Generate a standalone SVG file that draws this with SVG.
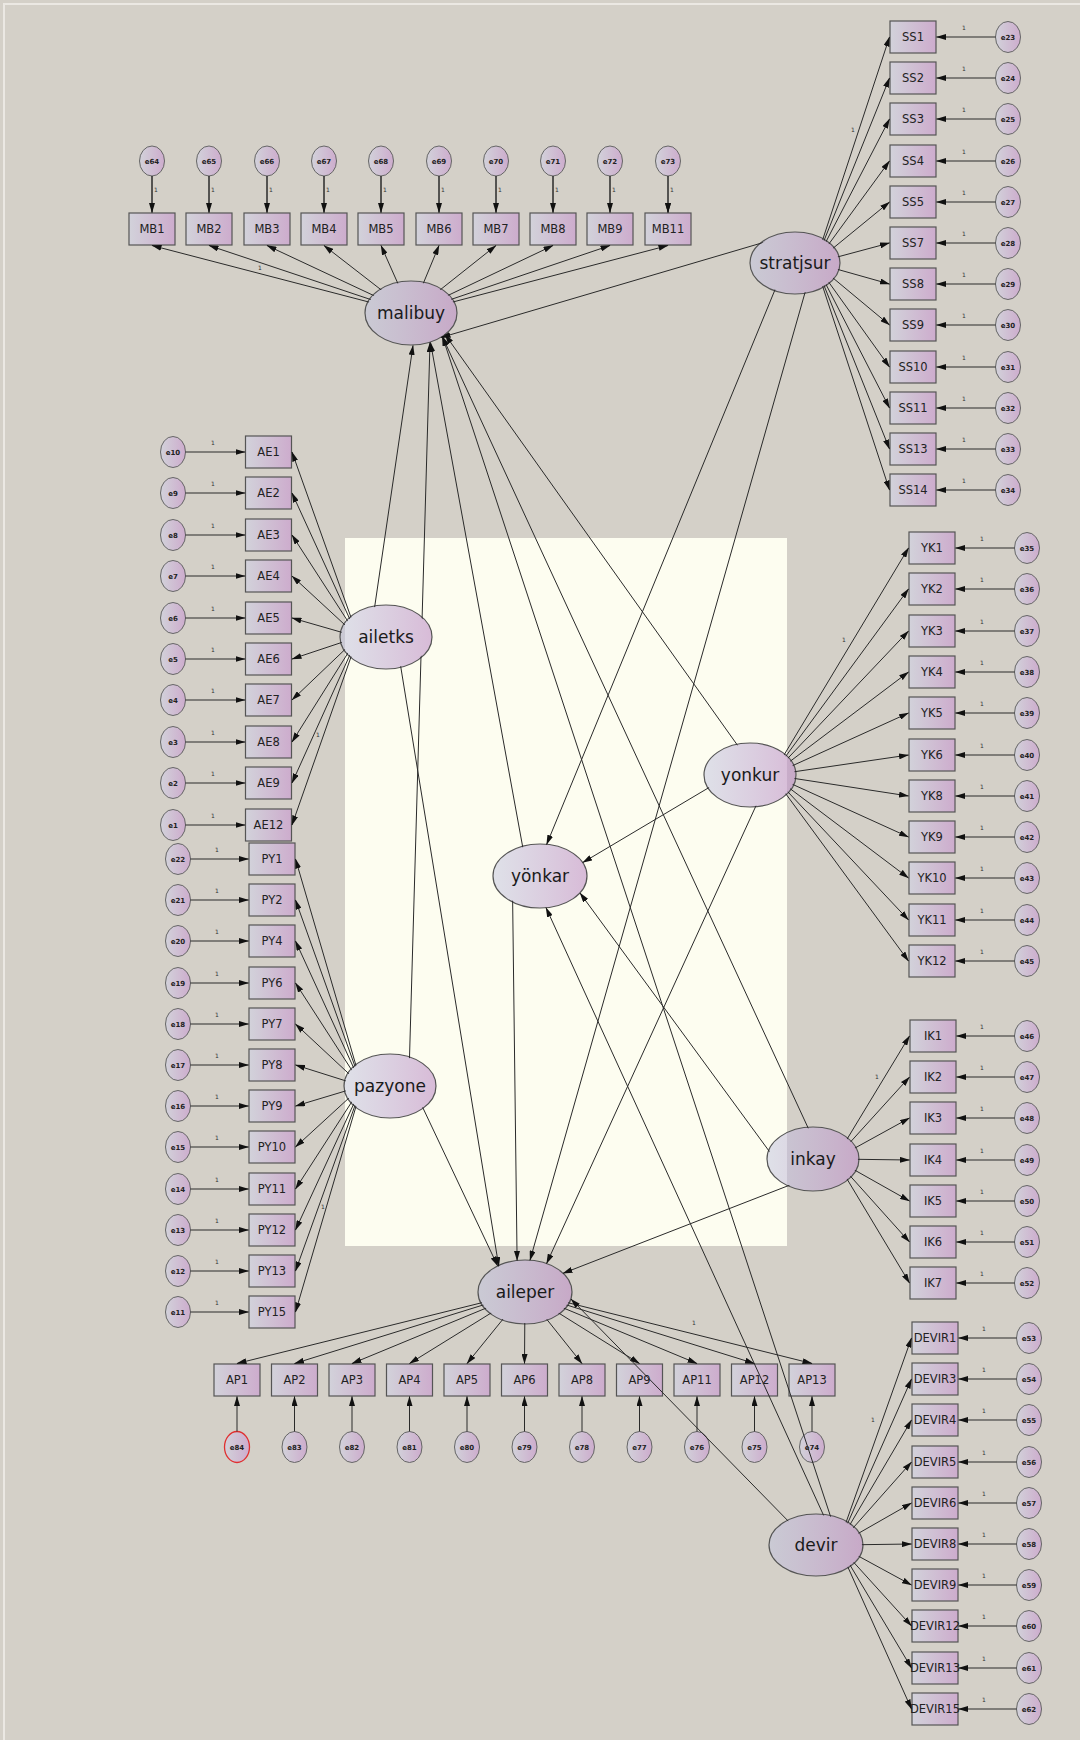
<svg xmlns="http://www.w3.org/2000/svg" width="1080" height="1740" viewBox="0 0 1080 1740">
<defs>
<linearGradient id="gb" x1="0" y1="0" x2="1" y2="0"><stop offset="0" stop-color="#d2d2da"/><stop offset="1" stop-color="#cdaccd"/></linearGradient>
<linearGradient id="gl" x1="0" y1="0" x2="1" y2="0"><stop offset="0" stop-color="#c0c4e0" stop-opacity="0.5"/><stop offset="1" stop-color="#bf8fc7" stop-opacity="0.6"/></linearGradient>
<marker id="ah" markerWidth="10" markerHeight="6" refX="9.5" refY="3" orient="auto" markerUnits="userSpaceOnUse"><path d="M0,0 L10,3 L0,6 z" fill="#111"/></marker>
<mask id="cut" maskUnits="userSpaceOnUse" x="0" y="0" width="1080" height="1740">
<rect x="0" y="0" width="1080" height="1740" fill="#fff"/>
<ellipse cx="411" cy="313" rx="45" ry="31" fill="#000"/>
<ellipse cx="795" cy="263" rx="44" ry="30" fill="#000"/>
<ellipse cx="386" cy="637" rx="45" ry="31" fill="#000"/>
<ellipse cx="390" cy="1086" rx="45" ry="31" fill="#000"/>
<ellipse cx="540" cy="876" rx="46" ry="31" fill="#000"/>
<ellipse cx="750" cy="775" rx="45" ry="31" fill="#000"/>
<ellipse cx="813" cy="1159" rx="45" ry="31" fill="#000"/>
<ellipse cx="525" cy="1292" rx="46" ry="31" fill="#000"/>
<ellipse cx="816" cy="1545" rx="46" ry="30" fill="#000"/>
</mask>
</defs>
<style>
.box{fill:url(#gb);stroke:#555;stroke-width:1.2}
.err{fill:url(#gb);stroke:#666;stroke-width:1}
.lat{fill:url(#gl);stroke:#555;stroke-width:1.2}
.bt{font-family:"DejaVu Sans","Liberation Sans",sans-serif;font-size:11.5px;fill:#222;text-anchor:middle}
.et{font-family:"DejaVu Sans","Liberation Sans",sans-serif;font-size:7px;font-weight:bold;fill:#222;text-anchor:middle}
.lt{font-family:"DejaVu Sans","Liberation Sans",sans-serif;font-size:17px;fill:#1a1a1a;text-anchor:middle}
.one{font-family:"DejaVu Sans","Liberation Sans",sans-serif;font-size:6px;fill:#333;text-anchor:middle}
.c{stroke:#2a2a2a;stroke-width:1;fill:none;marker-end:url(#ah)}
</style>
<rect x="0" y="0" width="1080" height="1740" fill="#d4d0c8"/>
<path d="M4,1740 V4 H1080" fill="none" stroke="#ebe8e3" stroke-width="2"/>
<rect x="345" y="538" width="442" height="708" fill="#fdfdf0"/>

<!-- latent variables -->
<g id="malibuy"><ellipse class="lat" cx="411" cy="313" rx="46" ry="32"/><text class="lt" x="411" y="319">malibuy</text></g>
<g id="stratjsur"><ellipse class="lat" cx="795" cy="263" rx="45" ry="31"/><text class="lt" x="795" y="269">stratjsur</text></g>
<g id="ailetks"><ellipse class="lat" cx="386" cy="637" rx="46" ry="32"/><text class="lt" x="386" y="643">ailetks</text></g>
<g id="pazyone"><ellipse class="lat" cx="390" cy="1086" rx="46" ry="32"/><text class="lt" x="390" y="1092">pazyone</text></g>
<g id="yonkar"><ellipse class="lat" cx="540" cy="876" rx="47" ry="32"/><text class="lt" x="540" y="882">yönkar</text></g>
<g id="yonkur"><ellipse class="lat" cx="750" cy="775" rx="46" ry="32"/><text class="lt" x="750" y="781">yonkur</text></g>
<g id="inkay"><ellipse class="lat" cx="813" cy="1159" rx="46" ry="32"/><text class="lt" x="813" y="1165">inkay</text></g>
<g id="aileper"><ellipse class="lat" cx="525" cy="1292" rx="47" ry="32"/><text class="lt" x="525" y="1298">aileper</text></g>
<g id="devir"><ellipse class="lat" cx="816" cy="1545" rx="47" ry="31"/><text class="lt" x="816" y="1551">devir</text></g>

<!-- MB indicators -->
<g id="MB1"><rect class="box" x="129" y="213" width="46" height="32"/><text class="bt" x="152" y="233">MB1</text></g>
<g id="MB2"><rect class="box" x="186" y="213" width="46" height="32"/><text class="bt" x="209" y="233">MB2</text></g>
<g id="MB3"><rect class="box" x="244" y="213" width="46" height="32"/><text class="bt" x="267" y="233">MB3</text></g>
<g id="MB4"><rect class="box" x="301" y="213" width="46" height="32"/><text class="bt" x="324" y="233">MB4</text></g>
<g id="MB5"><rect class="box" x="358" y="213" width="46" height="32"/><text class="bt" x="381" y="233">MB5</text></g>
<g id="MB6"><rect class="box" x="416" y="213" width="46" height="32"/><text class="bt" x="439" y="233">MB6</text></g>
<g id="MB7"><rect class="box" x="473" y="213" width="46" height="32"/><text class="bt" x="496" y="233">MB7</text></g>
<g id="MB8"><rect class="box" x="530" y="213" width="46" height="32"/><text class="bt" x="553" y="233">MB8</text></g>
<g id="MB9"><rect class="box" x="587" y="213" width="46" height="32"/><text class="bt" x="610" y="233">MB9</text></g>
<g id="MB11"><rect class="box" x="645" y="213" width="46" height="32"/><text class="bt" x="668" y="233">MB11</text></g>
<g id="e64"><ellipse class="err" cx="152" cy="161" rx="12.5" ry="15"/><text class="et" x="152" y="163.5">e64</text></g>
<g id="e65"><ellipse class="err" cx="209" cy="161" rx="12.5" ry="15"/><text class="et" x="209" y="163.5">e65</text></g>
<g id="e66"><ellipse class="err" cx="267" cy="161" rx="12.5" ry="15"/><text class="et" x="267" y="163.5">e66</text></g>
<g id="e67"><ellipse class="err" cx="324" cy="161" rx="12.5" ry="15"/><text class="et" x="324" y="163.5">e67</text></g>
<g id="e68"><ellipse class="err" cx="381" cy="161" rx="12.5" ry="15"/><text class="et" x="381" y="163.5">e68</text></g>
<g id="e69"><ellipse class="err" cx="439" cy="161" rx="12.5" ry="15"/><text class="et" x="439" y="163.5">e69</text></g>
<g id="e70"><ellipse class="err" cx="496" cy="161" rx="12.5" ry="15"/><text class="et" x="496" y="163.5">e70</text></g>
<g id="e71"><ellipse class="err" cx="553" cy="161" rx="12.5" ry="15"/><text class="et" x="553" y="163.5">e71</text></g>
<g id="e72"><ellipse class="err" cx="610" cy="161" rx="12.5" ry="15"/><text class="et" x="610" y="163.5">e72</text></g>
<g id="e73"><ellipse class="err" cx="668" cy="161" rx="12.5" ry="15"/><text class="et" x="668" y="163.5">e73</text></g>

<!-- SS indicators -->
<g id="SS1"><rect class="box" x="890" y="21" width="46" height="32"/><text class="bt" x="913" y="41">SS1</text></g>
<g id="SS2"><rect class="box" x="890" y="62" width="46" height="32"/><text class="bt" x="913" y="82">SS2</text></g>
<g id="SS3"><rect class="box" x="890" y="103" width="46" height="32"/><text class="bt" x="913" y="123">SS3</text></g>
<g id="SS4"><rect class="box" x="890" y="145" width="46" height="32"/><text class="bt" x="913" y="165">SS4</text></g>
<g id="SS5"><rect class="box" x="890" y="186" width="46" height="32"/><text class="bt" x="913" y="206">SS5</text></g>
<g id="SS7"><rect class="box" x="890" y="227" width="46" height="32"/><text class="bt" x="913" y="247">SS7</text></g>
<g id="SS8"><rect class="box" x="890" y="268" width="46" height="32"/><text class="bt" x="913" y="288">SS8</text></g>
<g id="SS9"><rect class="box" x="890" y="309" width="46" height="32"/><text class="bt" x="913" y="329">SS9</text></g>
<g id="SS10"><rect class="box" x="890" y="351" width="46" height="32"/><text class="bt" x="913" y="371">SS10</text></g>
<g id="SS11"><rect class="box" x="890" y="392" width="46" height="32"/><text class="bt" x="913" y="412">SS11</text></g>
<g id="SS13"><rect class="box" x="890" y="433" width="46" height="32"/><text class="bt" x="913" y="453">SS13</text></g>
<g id="SS14"><rect class="box" x="890" y="474" width="46" height="32"/><text class="bt" x="913" y="494">SS14</text></g>
<g id="e23"><ellipse class="err" cx="1008" cy="37" rx="12.5" ry="15.5"/><text class="et" x="1008" y="39.5">e23</text></g>
<g id="e24"><ellipse class="err" cx="1008" cy="78" rx="12.5" ry="15.5"/><text class="et" x="1008" y="80.5">e24</text></g>
<g id="e25"><ellipse class="err" cx="1008" cy="119" rx="12.5" ry="15.5"/><text class="et" x="1008" y="121.5">e25</text></g>
<g id="e26"><ellipse class="err" cx="1008" cy="161" rx="12.5" ry="15.5"/><text class="et" x="1008" y="163.5">e26</text></g>
<g id="e27"><ellipse class="err" cx="1008" cy="202" rx="12.5" ry="15.5"/><text class="et" x="1008" y="204.5">e27</text></g>
<g id="e28"><ellipse class="err" cx="1008" cy="243" rx="12.5" ry="15.5"/><text class="et" x="1008" y="245.5">e28</text></g>
<g id="e29"><ellipse class="err" cx="1008" cy="284" rx="12.5" ry="15.5"/><text class="et" x="1008" y="286.5">e29</text></g>
<g id="e30"><ellipse class="err" cx="1008" cy="325" rx="12.5" ry="15.5"/><text class="et" x="1008" y="327.5">e30</text></g>
<g id="e31"><ellipse class="err" cx="1008" cy="367" rx="12.5" ry="15.5"/><text class="et" x="1008" y="369.5">e31</text></g>
<g id="e32"><ellipse class="err" cx="1008" cy="408" rx="12.5" ry="15.5"/><text class="et" x="1008" y="410.5">e32</text></g>
<g id="e33"><ellipse class="err" cx="1008" cy="449" rx="12.5" ry="15.5"/><text class="et" x="1008" y="451.5">e33</text></g>
<g id="e34"><ellipse class="err" cx="1008" cy="490" rx="12.5" ry="15.5"/><text class="et" x="1008" y="492.5">e34</text></g>

<!-- YK indicators -->
<g id="YK1"><rect class="box" x="909" y="532" width="46" height="32"/><text class="bt" x="932" y="552">YK1</text></g>
<g id="YK2"><rect class="box" x="909" y="573" width="46" height="32"/><text class="bt" x="932" y="593">YK2</text></g>
<g id="YK3"><rect class="box" x="909" y="615" width="46" height="32"/><text class="bt" x="932" y="635">YK3</text></g>
<g id="YK4"><rect class="box" x="909" y="656" width="46" height="32"/><text class="bt" x="932" y="676">YK4</text></g>
<g id="YK5"><rect class="box" x="909" y="697" width="46" height="32"/><text class="bt" x="932" y="717">YK5</text></g>
<g id="YK6"><rect class="box" x="909" y="739" width="46" height="32"/><text class="bt" x="932" y="759">YK6</text></g>
<g id="YK8"><rect class="box" x="909" y="780" width="46" height="32"/><text class="bt" x="932" y="800">YK8</text></g>
<g id="YK9"><rect class="box" x="909" y="821" width="46" height="32"/><text class="bt" x="932" y="841">YK9</text></g>
<g id="YK10"><rect class="box" x="909" y="862" width="46" height="32"/><text class="bt" x="932" y="882">YK10</text></g>
<g id="YK11"><rect class="box" x="909" y="904" width="46" height="32"/><text class="bt" x="932" y="924">YK11</text></g>
<g id="YK12"><rect class="box" x="909" y="945" width="46" height="32"/><text class="bt" x="932" y="965">YK12</text></g>
<g id="e35"><ellipse class="err" cx="1027" cy="548" rx="12.5" ry="15.5"/><text class="et" x="1027" y="550.5">e35</text></g>
<g id="e36"><ellipse class="err" cx="1027" cy="589" rx="12.5" ry="15.5"/><text class="et" x="1027" y="591.5">e36</text></g>
<g id="e37"><ellipse class="err" cx="1027" cy="631" rx="12.5" ry="15.5"/><text class="et" x="1027" y="633.5">e37</text></g>
<g id="e38"><ellipse class="err" cx="1027" cy="672" rx="12.5" ry="15.5"/><text class="et" x="1027" y="674.5">e38</text></g>
<g id="e39"><ellipse class="err" cx="1027" cy="713" rx="12.5" ry="15.5"/><text class="et" x="1027" y="715.5">e39</text></g>
<g id="e40"><ellipse class="err" cx="1027" cy="755" rx="12.5" ry="15.5"/><text class="et" x="1027" y="757.5">e40</text></g>
<g id="e41"><ellipse class="err" cx="1027" cy="796" rx="12.5" ry="15.5"/><text class="et" x="1027" y="798.5">e41</text></g>
<g id="e42"><ellipse class="err" cx="1027" cy="837" rx="12.5" ry="15.5"/><text class="et" x="1027" y="839.5">e42</text></g>
<g id="e43"><ellipse class="err" cx="1027" cy="878" rx="12.5" ry="15.5"/><text class="et" x="1027" y="880.5">e43</text></g>
<g id="e44"><ellipse class="err" cx="1027" cy="920" rx="12.5" ry="15.5"/><text class="et" x="1027" y="922.5">e44</text></g>
<g id="e45"><ellipse class="err" cx="1027" cy="961" rx="12.5" ry="15.5"/><text class="et" x="1027" y="963.5">e45</text></g>

<!-- IK indicators -->
<g id="IK1"><rect class="box" x="910" y="1020" width="46" height="32"/><text class="bt" x="933" y="1040">IK1</text></g>
<g id="IK2"><rect class="box" x="910" y="1061" width="46" height="32"/><text class="bt" x="933" y="1081">IK2</text></g>
<g id="IK3"><rect class="box" x="910" y="1102" width="46" height="32"/><text class="bt" x="933" y="1122">IK3</text></g>
<g id="IK4"><rect class="box" x="910" y="1144" width="46" height="32"/><text class="bt" x="933" y="1164">IK4</text></g>
<g id="IK5"><rect class="box" x="910" y="1185" width="46" height="32"/><text class="bt" x="933" y="1205">IK5</text></g>
<g id="IK6"><rect class="box" x="910" y="1226" width="46" height="32"/><text class="bt" x="933" y="1246">IK6</text></g>
<g id="IK7"><rect class="box" x="910" y="1267" width="46" height="32"/><text class="bt" x="933" y="1287">IK7</text></g>
<g id="e46"><ellipse class="err" cx="1027" cy="1036" rx="12.5" ry="15.5"/><text class="et" x="1027" y="1038.5">e46</text></g>
<g id="e47"><ellipse class="err" cx="1027" cy="1077" rx="12.5" ry="15.5"/><text class="et" x="1027" y="1079.5">e47</text></g>
<g id="e48"><ellipse class="err" cx="1027" cy="1118" rx="12.5" ry="15.5"/><text class="et" x="1027" y="1120.5">e48</text></g>
<g id="e49"><ellipse class="err" cx="1027" cy="1160" rx="12.5" ry="15.5"/><text class="et" x="1027" y="1162.5">e49</text></g>
<g id="e50"><ellipse class="err" cx="1027" cy="1201" rx="12.5" ry="15.5"/><text class="et" x="1027" y="1203.5">e50</text></g>
<g id="e51"><ellipse class="err" cx="1027" cy="1242" rx="12.5" ry="15.5"/><text class="et" x="1027" y="1244.5">e51</text></g>
<g id="e52"><ellipse class="err" cx="1027" cy="1283" rx="12.5" ry="15.5"/><text class="et" x="1027" y="1285.5">e52</text></g>

<!-- DEVIR indicators -->
<g id="DEVIR1"><rect class="box" x="912" y="1322" width="46" height="32"/><text class="bt" x="935" y="1342">DEVIR1</text></g>
<g id="DEVIR3"><rect class="box" x="912" y="1363" width="46" height="32"/><text class="bt" x="935" y="1383">DEVIR3</text></g>
<g id="DEVIR4"><rect class="box" x="912" y="1404" width="46" height="32"/><text class="bt" x="935" y="1424">DEVIR4</text></g>
<g id="DEVIR5"><rect class="box" x="912" y="1446" width="46" height="32"/><text class="bt" x="935" y="1466">DEVIR5</text></g>
<g id="DEVIR6"><rect class="box" x="912" y="1487" width="46" height="32"/><text class="bt" x="935" y="1507">DEVIR6</text></g>
<g id="DEVIR8"><rect class="box" x="912" y="1528" width="46" height="32"/><text class="bt" x="935" y="1548">DEVIR8</text></g>
<g id="DEVIR9"><rect class="box" x="912" y="1569" width="46" height="32"/><text class="bt" x="935" y="1589">DEVIR9</text></g>
<g id="DEVIR12"><rect class="box" x="912" y="1610" width="46" height="32"/><text class="bt" x="935" y="1630">DEVIR12</text></g>
<g id="DEVIR13"><rect class="box" x="912" y="1652" width="46" height="32"/><text class="bt" x="935" y="1672">DEVIR13</text></g>
<g id="DEVIR15"><rect class="box" x="912" y="1693" width="46" height="32"/><text class="bt" x="935" y="1713">DEVIR15</text></g>
<g id="e53"><ellipse class="err" cx="1029" cy="1338" rx="12.5" ry="15.5"/><text class="et" x="1029" y="1340.5">e53</text></g>
<g id="e54"><ellipse class="err" cx="1029" cy="1379" rx="12.5" ry="15.5"/><text class="et" x="1029" y="1381.5">e54</text></g>
<g id="e55"><ellipse class="err" cx="1029" cy="1420" rx="12.5" ry="15.5"/><text class="et" x="1029" y="1422.5">e55</text></g>
<g id="e56"><ellipse class="err" cx="1029" cy="1462" rx="12.5" ry="15.5"/><text class="et" x="1029" y="1464.5">e56</text></g>
<g id="e57"><ellipse class="err" cx="1029" cy="1503" rx="12.5" ry="15.5"/><text class="et" x="1029" y="1505.5">e57</text></g>
<g id="e58"><ellipse class="err" cx="1029" cy="1544" rx="12.5" ry="15.5"/><text class="et" x="1029" y="1546.5">e58</text></g>
<g id="e59"><ellipse class="err" cx="1029" cy="1585" rx="12.5" ry="15.5"/><text class="et" x="1029" y="1587.5">e59</text></g>
<g id="e60"><ellipse class="err" cx="1029" cy="1626" rx="12.5" ry="15.5"/><text class="et" x="1029" y="1628.5">e60</text></g>
<g id="e61"><ellipse class="err" cx="1029" cy="1668" rx="12.5" ry="15.5"/><text class="et" x="1029" y="1670.5">e61</text></g>
<g id="e62"><ellipse class="err" cx="1029" cy="1709" rx="12.5" ry="15.5"/><text class="et" x="1029" y="1711.5">e62</text></g>

<!-- AE indicators -->
<g id="AE1"><rect class="box" x="245.5" y="436" width="46" height="32"/><text class="bt" x="268.5" y="456">AE1</text></g>
<g id="AE2"><rect class="box" x="245.5" y="477" width="46" height="32"/><text class="bt" x="268.5" y="497">AE2</text></g>
<g id="AE3"><rect class="box" x="245.5" y="519" width="46" height="32"/><text class="bt" x="268.5" y="539">AE3</text></g>
<g id="AE4"><rect class="box" x="245.5" y="560" width="46" height="32"/><text class="bt" x="268.5" y="580">AE4</text></g>
<g id="AE5"><rect class="box" x="245.5" y="602" width="46" height="32"/><text class="bt" x="268.5" y="622">AE5</text></g>
<g id="AE6"><rect class="box" x="245.5" y="643" width="46" height="32"/><text class="bt" x="268.5" y="663">AE6</text></g>
<g id="AE7"><rect class="box" x="245.5" y="684" width="46" height="32"/><text class="bt" x="268.5" y="704">AE7</text></g>
<g id="AE8"><rect class="box" x="245.5" y="726" width="46" height="32"/><text class="bt" x="268.5" y="746">AE8</text></g>
<g id="AE9"><rect class="box" x="245.5" y="767" width="46" height="32"/><text class="bt" x="268.5" y="787">AE9</text></g>
<g id="AE12"><rect class="box" x="245.5" y="809" width="46" height="32"/><text class="bt" x="268.5" y="829">AE12</text></g>
<g id="e10"><ellipse class="err" cx="173" cy="452" rx="12.5" ry="15.5"/><text class="et" x="173" y="454.5">e10</text></g>
<g id="e9"><ellipse class="err" cx="173" cy="493" rx="12.5" ry="15.5"/><text class="et" x="173" y="495.5">e9</text></g>
<g id="e8"><ellipse class="err" cx="173" cy="535" rx="12.5" ry="15.5"/><text class="et" x="173" y="537.5">e8</text></g>
<g id="e7"><ellipse class="err" cx="173" cy="576" rx="12.5" ry="15.5"/><text class="et" x="173" y="578.5">e7</text></g>
<g id="e6"><ellipse class="err" cx="173" cy="618" rx="12.5" ry="15.5"/><text class="et" x="173" y="620.5">e6</text></g>
<g id="e5"><ellipse class="err" cx="173" cy="659" rx="12.5" ry="15.5"/><text class="et" x="173" y="661.5">e5</text></g>
<g id="e4"><ellipse class="err" cx="173" cy="700" rx="12.5" ry="15.5"/><text class="et" x="173" y="702.5">e4</text></g>
<g id="e3"><ellipse class="err" cx="173" cy="742" rx="12.5" ry="15.5"/><text class="et" x="173" y="744.5">e3</text></g>
<g id="e2"><ellipse class="err" cx="173" cy="783" rx="12.5" ry="15.5"/><text class="et" x="173" y="785.5">e2</text></g>
<g id="e1"><ellipse class="err" cx="173" cy="825" rx="12.5" ry="15.5"/><text class="et" x="173" y="827.5">e1</text></g>

<!-- PY indicators -->
<g id="PY1"><rect class="box" x="249" y="843" width="46" height="32"/><text class="bt" x="272" y="863">PY1</text></g>
<g id="PY2"><rect class="box" x="249" y="884" width="46" height="32"/><text class="bt" x="272" y="904">PY2</text></g>
<g id="PY4"><rect class="box" x="249" y="925" width="46" height="32"/><text class="bt" x="272" y="945">PY4</text></g>
<g id="PY6"><rect class="box" x="249" y="967" width="46" height="32"/><text class="bt" x="272" y="987">PY6</text></g>
<g id="PY7"><rect class="box" x="249" y="1008" width="46" height="32"/><text class="bt" x="272" y="1028">PY7</text></g>
<g id="PY8"><rect class="box" x="249" y="1049" width="46" height="32"/><text class="bt" x="272" y="1069">PY8</text></g>
<g id="PY9"><rect class="box" x="249" y="1090" width="46" height="32"/><text class="bt" x="272" y="1110">PY9</text></g>
<g id="PY10"><rect class="box" x="249" y="1131" width="46" height="32"/><text class="bt" x="272" y="1151">PY10</text></g>
<g id="PY11"><rect class="box" x="249" y="1173" width="46" height="32"/><text class="bt" x="272" y="1193">PY11</text></g>
<g id="PY12"><rect class="box" x="249" y="1214" width="46" height="32"/><text class="bt" x="272" y="1234">PY12</text></g>
<g id="PY13"><rect class="box" x="249" y="1255" width="46" height="32"/><text class="bt" x="272" y="1275">PY13</text></g>
<g id="PY15"><rect class="box" x="249" y="1296" width="46" height="32"/><text class="bt" x="272" y="1316">PY15</text></g>
<g id="e22"><ellipse class="err" cx="178" cy="859" rx="12.5" ry="15.5"/><text class="et" x="178" y="861.5">e22</text></g>
<g id="e21"><ellipse class="err" cx="178" cy="900" rx="12.5" ry="15.5"/><text class="et" x="178" y="902.5">e21</text></g>
<g id="e20"><ellipse class="err" cx="178" cy="941" rx="12.5" ry="15.5"/><text class="et" x="178" y="943.5">e20</text></g>
<g id="e19"><ellipse class="err" cx="178" cy="983" rx="12.5" ry="15.5"/><text class="et" x="178" y="985.5">e19</text></g>
<g id="e18"><ellipse class="err" cx="178" cy="1024" rx="12.5" ry="15.5"/><text class="et" x="178" y="1026.5">e18</text></g>
<g id="e17"><ellipse class="err" cx="178" cy="1065" rx="12.5" ry="15.5"/><text class="et" x="178" y="1067.5">e17</text></g>
<g id="e16"><ellipse class="err" cx="178" cy="1106" rx="12.5" ry="15.5"/><text class="et" x="178" y="1108.5">e16</text></g>
<g id="e15"><ellipse class="err" cx="178" cy="1147" rx="12.5" ry="15.5"/><text class="et" x="178" y="1149.5">e15</text></g>
<g id="e14"><ellipse class="err" cx="178" cy="1189" rx="12.5" ry="15.5"/><text class="et" x="178" y="1191.5">e14</text></g>
<g id="e13"><ellipse class="err" cx="178" cy="1230" rx="12.5" ry="15.5"/><text class="et" x="178" y="1232.5">e13</text></g>
<g id="e12"><ellipse class="err" cx="178" cy="1271" rx="12.5" ry="15.5"/><text class="et" x="178" y="1273.5">e12</text></g>
<g id="e11"><ellipse class="err" cx="178" cy="1312" rx="12.5" ry="15.5"/><text class="et" x="178" y="1314.5">e11</text></g>

<!-- AP indicators -->
<g id="AP1"><rect class="box" x="214" y="1364" width="46" height="32"/><text class="bt" x="237" y="1384">AP1</text></g>
<g id="AP2"><rect class="box" x="271.5" y="1364" width="46" height="32"/><text class="bt" x="294.5" y="1384">AP2</text></g>
<g id="AP3"><rect class="box" x="329" y="1364" width="46" height="32"/><text class="bt" x="352" y="1384">AP3</text></g>
<g id="AP4"><rect class="box" x="386.5" y="1364" width="46" height="32"/><text class="bt" x="409.5" y="1384">AP4</text></g>
<g id="AP5"><rect class="box" x="444" y="1364" width="46" height="32"/><text class="bt" x="467" y="1384">AP5</text></g>
<g id="AP6"><rect class="box" x="501.5" y="1364" width="46" height="32"/><text class="bt" x="524.5" y="1384">AP6</text></g>
<g id="AP8"><rect class="box" x="559" y="1364" width="46" height="32"/><text class="bt" x="582" y="1384">AP8</text></g>
<g id="AP9"><rect class="box" x="616.5" y="1364" width="46" height="32"/><text class="bt" x="639.5" y="1384">AP9</text></g>
<g id="AP11"><rect class="box" x="674" y="1364" width="46" height="32"/><text class="bt" x="697" y="1384">AP11</text></g>
<g id="AP12"><rect class="box" x="731.5" y="1364" width="46" height="32"/><text class="bt" x="754.5" y="1384">AP12</text></g>
<g id="AP13"><rect class="box" x="789" y="1364" width="46" height="32"/><text class="bt" x="812" y="1384">AP13</text></g>
<g id="e84"><ellipse class="err" cx="237" cy="1447" rx="12.5" ry="15.5" style="stroke:#e03030;stroke-width:1.3"/><text class="et" x="237" y="1449.5">e84</text></g>
<g id="e83"><ellipse class="err" cx="294.5" cy="1447" rx="12.5" ry="15.5"/><text class="et" x="294.5" y="1449.5">e83</text></g>
<g id="e82"><ellipse class="err" cx="352" cy="1447" rx="12.5" ry="15.5"/><text class="et" x="352" y="1449.5">e82</text></g>
<g id="e81"><ellipse class="err" cx="409.5" cy="1447" rx="12.5" ry="15.5"/><text class="et" x="409.5" y="1449.5">e81</text></g>
<g id="e80"><ellipse class="err" cx="467" cy="1447" rx="12.5" ry="15.5"/><text class="et" x="467" y="1449.5">e80</text></g>
<g id="e79"><ellipse class="err" cx="524.5" cy="1447" rx="12.5" ry="15.5"/><text class="et" x="524.5" y="1449.5">e79</text></g>
<g id="e78"><ellipse class="err" cx="582" cy="1447" rx="12.5" ry="15.5"/><text class="et" x="582" y="1449.5">e78</text></g>
<g id="e77"><ellipse class="err" cx="639.5" cy="1447" rx="12.5" ry="15.5"/><text class="et" x="639.5" y="1449.5">e77</text></g>
<g id="e76"><ellipse class="err" cx="697" cy="1447" rx="12.5" ry="15.5"/><text class="et" x="697" y="1449.5">e76</text></g>
<g id="e75"><ellipse class="err" cx="754.5" cy="1447" rx="12.5" ry="15.5"/><text class="et" x="754.5" y="1449.5">e75</text></g>
<g id="e74"><ellipse class="err" cx="812" cy="1447" rx="12.5" ry="15.5"/><text class="et" x="812" y="1449.5">e74</text></g>

<!-- connectors -->
<g id="connectors" mask="url(#cut)">
<!-- error to indicator: MB -->
<path class="c" d="M152,176 V212.5 M209,176 V212.5 M267,176 V212.5 M324,176 V212.5 M381,176 V212.5 M439,176 V212.5 M496,176 V212.5 M553,176 V212.5 M610,176 V212.5 M668,176 V212.5"/>
<path class="c" d="M152,176 V212.5"/><path class="c" d="M209,176 V212.5"/><path class="c" d="M267,176 V212.5"/><path class="c" d="M324,176 V212.5"/><path class="c" d="M381,176 V212.5"/><path class="c" d="M439,176 V212.5"/><path class="c" d="M496,176 V212.5"/><path class="c" d="M553,176 V212.5"/><path class="c" d="M610,176 V212.5"/><path class="c" d="M668,176 V212.5"/>
<!-- SS errors -->
<path class="c" d="M995.5,37 H936.5"/><path class="c" d="M995.5,78 H936.5"/><path class="c" d="M995.5,119 H936.5"/><path class="c" d="M995.5,161 H936.5"/><path class="c" d="M995.5,202 H936.5"/><path class="c" d="M995.5,243 H936.5"/><path class="c" d="M995.5,284 H936.5"/><path class="c" d="M995.5,325 H936.5"/><path class="c" d="M995.5,367 H936.5"/><path class="c" d="M995.5,408 H936.5"/><path class="c" d="M995.5,449 H936.5"/><path class="c" d="M995.5,490 H936.5"/>
<!-- YK errors -->
<path class="c" d="M1014.5,548 H955.5"/><path class="c" d="M1014.5,589 H955.5"/><path class="c" d="M1014.5,631 H955.5"/><path class="c" d="M1014.5,672 H955.5"/><path class="c" d="M1014.5,713 H955.5"/><path class="c" d="M1014.5,755 H955.5"/><path class="c" d="M1014.5,796 H955.5"/><path class="c" d="M1014.5,837 H955.5"/><path class="c" d="M1014.5,878 H955.5"/><path class="c" d="M1014.5,920 H955.5"/><path class="c" d="M1014.5,961 H955.5"/>
<!-- IK errors -->
<path class="c" d="M1014.5,1036 H956.5"/><path class="c" d="M1014.5,1077 H956.5"/><path class="c" d="M1014.5,1118 H956.5"/><path class="c" d="M1014.5,1160 H956.5"/><path class="c" d="M1014.5,1201 H956.5"/><path class="c" d="M1014.5,1242 H956.5"/><path class="c" d="M1014.5,1283 H956.5"/>
<!-- DEVIR errors -->
<path class="c" d="M1016.5,1338 H958.5"/><path class="c" d="M1016.5,1379 H958.5"/><path class="c" d="M1016.5,1420 H958.5"/><path class="c" d="M1016.5,1462 H958.5"/><path class="c" d="M1016.5,1503 H958.5"/><path class="c" d="M1016.5,1544 H958.5"/><path class="c" d="M1016.5,1585 H958.5"/><path class="c" d="M1016.5,1626 H958.5"/><path class="c" d="M1016.5,1668 H958.5"/><path class="c" d="M1016.5,1709 H958.5"/>
<!-- AE errors -->
<path class="c" d="M185.5,452 H245"/><path class="c" d="M185.5,493 H245"/><path class="c" d="M185.5,535 H245"/><path class="c" d="M185.5,576 H245"/><path class="c" d="M185.5,618 H245"/><path class="c" d="M185.5,659 H245"/><path class="c" d="M185.5,700 H245"/><path class="c" d="M185.5,742 H245"/><path class="c" d="M185.5,783 H245"/><path class="c" d="M185.5,825 H245"/>
<!-- PY errors -->
<path class="c" d="M190.5,859 H248.5"/><path class="c" d="M190.5,900 H248.5"/><path class="c" d="M190.5,941 H248.5"/><path class="c" d="M190.5,983 H248.5"/><path class="c" d="M190.5,1024 H248.5"/><path class="c" d="M190.5,1065 H248.5"/><path class="c" d="M190.5,1106 H248.5"/><path class="c" d="M190.5,1147 H248.5"/><path class="c" d="M190.5,1189 H248.5"/><path class="c" d="M190.5,1230 H248.5"/><path class="c" d="M190.5,1271 H248.5"/><path class="c" d="M190.5,1312 H248.5"/>
<!-- AP errors -->
<path class="c" d="M237,1431.5 V1396.5"/><path class="c" d="M294.5,1431.5 V1396.5"/><path class="c" d="M352,1431.5 V1396.5"/><path class="c" d="M409.5,1431.5 V1396.5"/><path class="c" d="M467,1431.5 V1396.5"/><path class="c" d="M524.5,1431.5 V1396.5"/><path class="c" d="M582,1431.5 V1396.5"/><path class="c" d="M639.5,1431.5 V1396.5"/><path class="c" d="M697,1431.5 V1396.5"/><path class="c" d="M754.5,1431.5 V1396.5"/><path class="c" d="M812,1431.5 V1396.5"/>

<!-- loadings malibuy -->
<path class="c" d="M411,313 L152,245.5"/><path class="c" d="M411,313 L209,245.5"/><path class="c" d="M411,313 L267,245.5"/><path class="c" d="M411,313 L324,245.5"/><path class="c" d="M411,313 L381,245.5"/><path class="c" d="M411,313 L439,245.5"/><path class="c" d="M411,313 L496,245.5"/><path class="c" d="M411,313 L553,245.5"/><path class="c" d="M411,313 L610,245.5"/><path class="c" d="M411,313 L668,245.5"/>
<!-- loadings stratjsur -->
<path class="c" d="M815,263 L889.5,37"/><path class="c" d="M815,263 L889.5,78"/><path class="c" d="M815,263 L889.5,119"/><path class="c" d="M815,263 L889.5,161"/><path class="c" d="M815,263 L889.5,202"/><path class="c" d="M815,263 L889.5,243"/><path class="c" d="M815,263 L889.5,284"/><path class="c" d="M815,263 L889.5,325"/><path class="c" d="M815,263 L889.5,367"/><path class="c" d="M815,263 L889.5,408"/><path class="c" d="M815,263 L889.5,449"/><path class="c" d="M815,263 L889.5,490"/>
<!-- loadings yonkur -->
<path class="c" d="M772,775 L908.5,548"/><path class="c" d="M772,775 L908.5,589"/><path class="c" d="M772,775 L908.5,631"/><path class="c" d="M772,775 L908.5,672"/><path class="c" d="M772,775 L908.5,713"/><path class="c" d="M772,775 L908.5,755"/><path class="c" d="M772,775 L908.5,796"/><path class="c" d="M772,775 L908.5,837"/><path class="c" d="M772,775 L908.5,878"/><path class="c" d="M772,775 L908.5,920"/><path class="c" d="M772,775 L908.5,961"/>
<!-- loadings inkay -->
<path class="c" d="M835,1159 L909.5,1036"/><path class="c" d="M835,1159 L909.5,1077"/><path class="c" d="M835,1159 L909.5,1118"/><path class="c" d="M835,1159 L909.5,1160"/><path class="c" d="M835,1159 L909.5,1201"/><path class="c" d="M835,1159 L909.5,1242"/><path class="c" d="M835,1159 L909.5,1283"/>
<!-- loadings devir -->
<path class="c" d="M838,1545 L911.5,1338"/><path class="c" d="M838,1545 L911.5,1379"/><path class="c" d="M838,1545 L911.5,1420"/><path class="c" d="M838,1545 L911.5,1462"/><path class="c" d="M838,1545 L911.5,1503"/><path class="c" d="M838,1545 L911.5,1544"/><path class="c" d="M838,1545 L911.5,1585"/><path class="c" d="M838,1545 L911.5,1626"/><path class="c" d="M838,1545 L911.5,1668"/><path class="c" d="M838,1545 L911.5,1709"/>
<!-- loadings ailetks -->
<path class="c" d="M358,637 L292,452"/><path class="c" d="M358,637 L292,493"/><path class="c" d="M358,637 L292,535"/><path class="c" d="M358,637 L292,576"/><path class="c" d="M358,637 L292,618"/><path class="c" d="M358,637 L292,659"/><path class="c" d="M358,637 L292,700"/><path class="c" d="M358,637 L292,742"/><path class="c" d="M358,637 L292,783"/><path class="c" d="M358,637 L292,825"/>
<!-- loadings pazyone -->
<path class="c" d="M362,1086 L295.5,859"/><path class="c" d="M362,1086 L295.5,900"/><path class="c" d="M362,1086 L295.5,941"/><path class="c" d="M362,1086 L295.5,983"/><path class="c" d="M362,1086 L295.5,1024"/><path class="c" d="M362,1086 L295.5,1065"/><path class="c" d="M362,1086 L295.5,1106"/><path class="c" d="M362,1086 L295.5,1147"/><path class="c" d="M362,1086 L295.5,1189"/><path class="c" d="M362,1086 L295.5,1230"/><path class="c" d="M362,1086 L295.5,1271"/><path class="c" d="M362,1086 L295.5,1312"/>
<!-- loadings aileper -->
<path class="c" d="M525,1292 L237,1363.5"/><path class="c" d="M525,1292 L294.5,1363.5"/><path class="c" d="M525,1292 L352,1363.5"/><path class="c" d="M525,1292 L409.5,1363.5"/><path class="c" d="M525,1292 L467,1363.5"/><path class="c" d="M525,1292 L524.5,1363.5"/><path class="c" d="M525,1292 L582,1363.5"/><path class="c" d="M525,1292 L639.5,1363.5"/><path class="c" d="M525,1292 L697,1363.5"/><path class="c" d="M525,1292 L754.5,1363.5"/><path class="c" d="M525,1292 L812,1363.5"/>

<!-- structural paths -->
<path class="c" d="M372,625 L413,345.5"/>
<path class="c" d="M409,1075 L430,342.5"/>
<path class="c" d="M526,865 L430.5,342.5"/>
<path class="c" d="M765,242 L441,337.5"/>
<path class="c" d="M748,760 L445,334.5"/>
<path class="c" d="M816,1145 L442.3,336.5"/>
<path class="c" d="M835,1530 L442.4,336.3"/>
<path class="c" d="M779,280 L546.6,844.5"/>
<path class="c" d="M720,781 L582.7,862.6"/>
<path class="c" d="M780,1166 L580,893"/>
<path class="c" d="M828,1525 L546,907.6"/>
<path class="c" d="M398,650 L498.8,1266.5"/>
<path class="c" d="M405,1070 L497.6,1265.8"/>
<path class="c" d="M512.5,890 L517.1,1260.5"/>
<path class="c" d="M812,268 L530,1260.2"/>
<path class="c" d="M760,797 L546.6,1263.5"/>
<path class="c" d="M790,1185 L563,1273.3"/>
<path class="c" d="M795,1528 L571,1299"/>
</g>

<!-- fixed parameter labels -->
<g id="labels">
<text class="one" x="156" y="192">1</text><text class="one" x="213" y="192">1</text><text class="one" x="271" y="192">1</text><text class="one" x="328" y="192">1</text><text class="one" x="385" y="192">1</text><text class="one" x="443" y="192">1</text><text class="one" x="500" y="192">1</text><text class="one" x="557" y="192">1</text><text class="one" x="614" y="192">1</text><text class="one" x="672" y="192">1</text>
<text class="one" x="964" y="30">1</text><text class="one" x="964" y="71">1</text><text class="one" x="964" y="112">1</text><text class="one" x="964" y="154">1</text><text class="one" x="964" y="195">1</text><text class="one" x="964" y="236">1</text><text class="one" x="964" y="277">1</text><text class="one" x="964" y="318">1</text><text class="one" x="964" y="360">1</text><text class="one" x="964" y="401">1</text><text class="one" x="964" y="442">1</text><text class="one" x="964" y="483">1</text>
<text class="one" x="982" y="541">1</text><text class="one" x="982" y="582">1</text><text class="one" x="982" y="624">1</text><text class="one" x="982" y="665">1</text><text class="one" x="982" y="706">1</text><text class="one" x="982" y="748">1</text><text class="one" x="982" y="789">1</text><text class="one" x="982" y="830">1</text><text class="one" x="982" y="871">1</text><text class="one" x="982" y="913">1</text><text class="one" x="982" y="954">1</text>
<text class="one" x="982" y="1029">1</text><text class="one" x="982" y="1070">1</text><text class="one" x="982" y="1111">1</text><text class="one" x="982" y="1153">1</text><text class="one" x="982" y="1194">1</text><text class="one" x="982" y="1235">1</text><text class="one" x="982" y="1276">1</text>
<text class="one" x="984" y="1331">1</text><text class="one" x="984" y="1372">1</text><text class="one" x="984" y="1413">1</text><text class="one" x="984" y="1455">1</text><text class="one" x="984" y="1496">1</text><text class="one" x="984" y="1537">1</text><text class="one" x="984" y="1578">1</text><text class="one" x="984" y="1619">1</text><text class="one" x="984" y="1661">1</text><text class="one" x="984" y="1702">1</text>
<text class="one" x="213" y="445">1</text><text class="one" x="213" y="486">1</text><text class="one" x="213" y="528">1</text><text class="one" x="213" y="569">1</text><text class="one" x="213" y="611">1</text><text class="one" x="213" y="652">1</text><text class="one" x="213" y="693">1</text><text class="one" x="213" y="735">1</text><text class="one" x="213" y="776">1</text><text class="one" x="213" y="818">1</text>
<text class="one" x="217" y="852">1</text><text class="one" x="217" y="893">1</text><text class="one" x="217" y="934">1</text><text class="one" x="217" y="976">1</text><text class="one" x="217" y="1017">1</text><text class="one" x="217" y="1058">1</text><text class="one" x="217" y="1099">1</text><text class="one" x="217" y="1140">1</text><text class="one" x="217" y="1182">1</text><text class="one" x="217" y="1223">1</text><text class="one" x="217" y="1264">1</text><text class="one" x="217" y="1305">1</text>
<text class="one" x="260" y="270">1</text>
<text class="one" x="853" y="132">1</text>
<text class="one" x="318" y="737">1</text>
<text class="one" x="323" y="1209">1</text>
<text class="one" x="844" y="642">1</text>
<text class="one" x="877" y="1079">1</text>
<text class="one" x="873" y="1422">1</text>
<text class="one" x="694" y="1325">1</text>
</g>
</svg>
